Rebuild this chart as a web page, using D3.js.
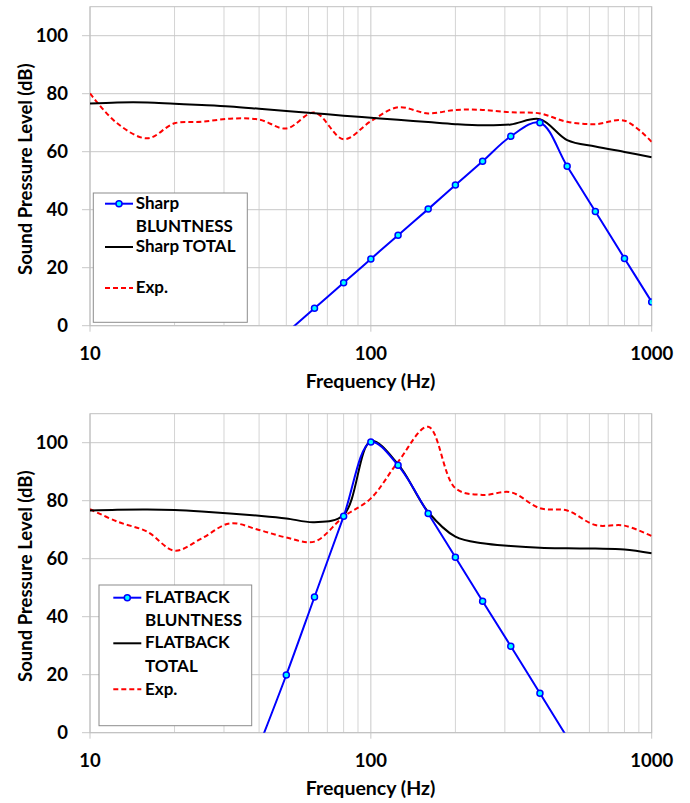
<!DOCTYPE html>
<html>
<head>
<meta charset="utf-8">
<script src="https://cdn.jsdelivr.net/npm/d3@7/dist/d3.min.js"></script>
<style>
  body { margin: 0; background: #fff; }
  text { font-family: Lato, "Noto Sans", sans-serif; font-weight: bold; fill: #000; }
</style>
</head>
<body>
<svg id="chart" width="690" height="803"></svg>
<script>
// 1/3 octave band centre frequencies (Hz)
const freqs = [10, 12.5, 16, 20, 25, 31.5, 40, 50, 63, 80, 100, 125, 160, 200, 250, 315, 400, 500, 630, 800, 1000];

// top panel: Sharp
const sharpBluntFreq = [50, 63, 80, 100, 125, 160, 200, 250, 315, 400, 500, 630, 800, 1000];
const sharpBlunt = [-2.5, 6.0, 14.8, 23.0, 31.2, 40.2, 48.5, 56.7, 65.3, 70.0, 55.0, 39.4, 23.2, 8.2];
const sharpTotal = [76.6, 77.0, 77.0, 76.5, 76.1, 75.6, 74.8, 74.0, 73.3, 72.4, 71.7, 71.0, 70.2, 69.5, 69.1, 69.4, 71.2, 64.0, 61.8, 59.9, 58.1];
const sharpExp = [80.1, 69.8, 64.6, 69.8, 70.3, 71.4, 71.1, 68.0, 73.5, 64.3, 70.5, 75.3, 73.2, 74.4, 74.4, 73.6, 73.2, 70.3, 69.5, 70.7, 63.4];

// bottom panel: Flatback
const flatBluntFreq = [40, 50, 63, 80, 100, 125, 160, 200, 250, 315, 400, 500];
const flatBlunt = [-4.5, 19.9, 46.8, 74.6, 100.2, 92.2, 75.6, 60.5, 45.3, 29.8, 13.6, -1.6];
const flatTotal = [76.6, 76.9, 77.0, 76.8, 76.3, 75.6, 74.8, 73.9, 72.6, 75.1, 100.5, 92.6, 76.1, 67.6, 65.3, 64.4, 63.8, 63.6, 63.5, 63.2, 61.9];
const flatExp = [77.1, 72.8, 69.3, 62.8, 67.0, 72.2, 69.9, 67.3, 65.9, 74.5, 80.8, 93.4, 105.5, 84.3, 82.0, 82.9, 77.4, 76.6, 71.6, 71.4, 67.8];

const yTicks = [0, 20, 40, 60, 80, 100];
const xTicks = [10, 100, 1000];
const xGrid = [20, 30, 40, 50, 60, 70, 80, 90, 200, 300, 400, 500, 600, 700, 800, 900];

const svg = d3.select("#chart");

const x = d3.scaleLog().domain([10, 1000]).range([90, 651.7]);

function drawPanel(id, y0, blunt, total, exp, legend) {
  const y = d3.scaleLinear().domain([0, 110]).range([y0, y0 - 319]);
  const g = svg.append("g");

  g.append("clipPath").attr("id", "clip" + id)
    .append("rect")
    .attr("x", x(10)).attr("y", y(110))
    .attr("width", x(1000) - x(10)).attr("height", y(0) - y(110));

  // grid
  g.selectAll(".vminor").data(xGrid).enter().append("line")
    .attr("x1", d => x(d)).attr("x2", d => x(d))
    .attr("y1", y(0)).attr("y2", y(110))
    .attr("stroke", "#d4d4d4").attr("stroke-width", 1);
  g.selectAll(".vmajor").data(xTicks).enter().append("line")
    .attr("x1", d => x(d)).attr("x2", d => x(d))
    .attr("y1", y(0) + 6).attr("y2", y(110))
    .attr("stroke", "#c8c8c8").attr("stroke-width", 1);
  g.selectAll(".hgrid").data(yTicks).enter().append("line")
    .attr("x1", x(10) - 8).attr("x2", x(1000))
    .attr("y1", d => y(d)).attr("y2", d => y(d))
    .attr("stroke", "#c8c8c8").attr("stroke-width", 1);
  g.append("rect")
    .attr("x", x(10)).attr("y", y(110))
    .attr("width", x(1000) - x(10)).attr("height", y(0) - y(110))
    .attr("fill", "none").attr("stroke", "#c0c0c0");

  // tick labels
  g.selectAll(".ylab").data(yTicks).enter().append("text")
    .attr("x", 68).attr("y", d => y(d) + 6.5)
    .attr("text-anchor", "end").style("font-size", "18.5px")
    .text(d => d);
  g.selectAll(".xlab").data(xTicks).enter().append("text")
    .attr("x", d => x(d)).attr("y", y(0) + 34)
    .attr("text-anchor", "middle").style("font-size", "18.5px")
    .text(d => d);

  // titles
  g.append("text")
    .attr("x", 370.5).attr("y", y(0) + 62)
    .attr("text-anchor", "middle").style("font-size", "19.5px")
    .text("Frequency (Hz)");
  g.append("text")
    .attr("transform", `translate(32,${(y(0) + y(110)) / 2 + 3}) rotate(-90)`)
    .attr("text-anchor", "middle").style("font-size", "18.5px")
    .text("Sound Pressure Level (dB)");

  const line = d3.line()
    .x(d => x(d[0])).y(d => y(d[1]))
    .curve(d3.curveCatmullRom);

  const plot = g.append("g").attr("clip-path", `url(#clip${id})`);

  plot.append("path")
    .datum(d3.zip(freqs, exp))
    .attr("d", line)
    .attr("fill", "none").attr("stroke", "#ff0000")
    .attr("stroke-width", 2).attr("stroke-dasharray", "5,3");
  plot.append("path")
    .datum(d3.zip(freqs, total))
    .attr("d", line)
    .attr("fill", "none").attr("stroke", "#000")
    .attr("stroke-width", 2);

  const bl = d3.zip(blunt.f, blunt.v);
  plot.append("path")
    .datum(bl)
    .attr("d", line)
    .attr("fill", "none").attr("stroke", "#0000ff")
    .attr("stroke-width", 2);
  plot.selectAll(".pt").data(bl).enter().append("circle")
    .attr("cx", d => x(d[0])).attr("cy", d => y(d[1]))
    .attr("r", 3).attr("fill", "#00ffff")
    .attr("stroke", "#0000ff").attr("stroke-width", 1.5);

  // legend
  const L = legend;
  g.append("rect")
    .attr("x", L.x).attr("y", L.y).attr("width", L.w).attr("height", L.h)
    .attr("fill", "#fff").attr("stroke", "#8c8c8c").attr("stroke-width", 1);
  const styles = [
    { stroke: "#0000ff", dash: null, marker: true },
    { stroke: "#000", dash: null, marker: false },
    { stroke: "#ff0000", dash: "5,3", marker: false }
  ];
  L.items.forEach((it, i) => {
    const s = styles[i];
    g.append("line")
      .attr("x1", L.lx).attr("x2", L.lx + 28)
      .attr("y1", it.ly).attr("y2", it.ly)
      .attr("stroke", s.stroke).attr("stroke-width", 2)
      .attr("stroke-dasharray", s.dash);
    if (s.marker) {
      g.append("circle")
        .attr("cx", L.lx + 14).attr("cy", it.ly).attr("r", 3)
        .attr("fill", "#00ffff").attr("stroke", "#0000ff").attr("stroke-width", 1.5);
    }
    it.lines.forEach((t, j) => {
      g.append("text")
        .attr("x", L.tx).attr("y", it.base[j])
        .style("font-size", "17px")
        .text(t);
    });
  });
}

drawPanel(1, 325.7,
  { f: sharpBluntFreq, v: sharpBlunt }, sharpTotal, sharpExp,
  {
    x: 93.3, y: 193, w: 154, h: 129.3, lx: 105, tx: 135.7,
    items: [
      { ly: 203.7, lines: ["Sharp", "BLUNTNESS"], base: [208.7, 232.3] },
      { ly: 247, lines: ["Sharp TOTAL"], base: [252.3] },
      { ly: 288, lines: ["Exp."], base: [292.5] }
    ]
  });

drawPanel(2, 732.7,
  { f: flatBluntFreq, v: flatBlunt }, flatTotal, flatExp,
  {
    x: 99, y: 585, w: 152.7, h: 140.7, lx: 113.3, tx: 145,
    items: [
      { ly: 597.7, lines: ["FLATBACK", "BLUNTNESS"], base: [602.7, 625.7] },
      { ly: 643.3, lines: ["FLATBACK", "TOTAL"], base: [648.3, 672.3] },
      { ly: 689.3, lines: ["Exp."], base: [695] }
    ]
  });
</script>
</body>
</html>
